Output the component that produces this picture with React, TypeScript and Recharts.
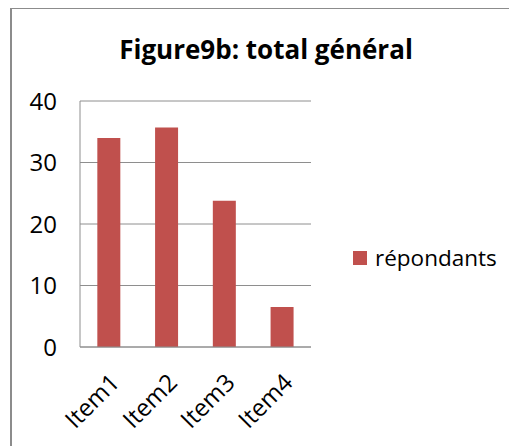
import React from "react";
import { BarChart, Bar, XAxis, YAxis, CartesianGrid } from "recharts";

const categories = ["Item1", "Item2", "Item3", "Item4"];
const repondants = [34, 35.7, 23.8, 6.5];
const yTicks = [0, 10, 20, 30, 40];
const seriesName = "répondants";

const data = categories.map((name, i) => ({ name, repondants: repondants[i] }));

const FONT = "'Open Sans', 'Noto Sans', sans-serif";
const BAR = "#C0504D";
const GRID = "#8e8e8e";

export default function App() {
  return (
    <div style={{ position: "relative", width: 509, height: 438, overflow: "hidden", background: "#fff" }}>
      <div
        style={{
          position: "absolute",
          left: 2,
          top: -1,
          width: 600,
          height: 600,
          borderLeft: "2px solid #8c8c8c",
          borderTop: "2px solid #8c8c8c",
        }}
      />
      <div
        style={{
          position: "absolute",
          left: 0,
          width: 516,
          top: 23,
          textAlign: "center",
          fontFamily: FONT,
          fontWeight: 700,
          fontSize: 26,
          lineHeight: "36px",
          color: "#000",
        }}
      >
        Figure9b: total général
      </div>
      <BarChart
        width={509}
        height={438}
        data={data}
        margin={{ top: 93, right: 206, left: 0, bottom: 0 }}
        barCategoryGap="30%"
        style={{ position: "absolute", left: 0, top: 0 }}
      >
        <CartesianGrid vertical={false} stroke={GRID} strokeWidth={1} />
        <XAxis
          dataKey="name"
          height={99}
          interval={0}
          tickLine={false}
          axisLine={{ stroke: GRID }}
          tickSize={0}
          tickMargin={25}
          angle={-45}
          textAnchor="end"
          tick={{ fill: "#000", fontSize: 24, fontFamily: FONT }}
        />
        <YAxis
          width={72}
          domain={[0, 40]}
          ticks={yTicks}
          tickLine={false}
          axisLine={{ stroke: GRID }}
          tickSize={0}
          tickMargin={23}
          tick={{ fill: "#000", fontSize: 24, fontFamily: FONT }}
        />
        <Bar dataKey="repondants" name={seriesName} fill={BAR} isAnimationActive={false} />
      </BarChart>
      <div
        style={{
          position: "absolute",
          left: 345,
          top: 234,
          display: "flex",
          alignItems: "center",
          fontFamily: FONT,
          fontSize: 22.5,
          color: "#000",
        }}
      >
        <span style={{ width: 14, height: 14, background: BAR, display: "inline-block", marginRight: 8 }} />
        <span>{seriesName}</span>
      </div>
    </div>
  );
}
